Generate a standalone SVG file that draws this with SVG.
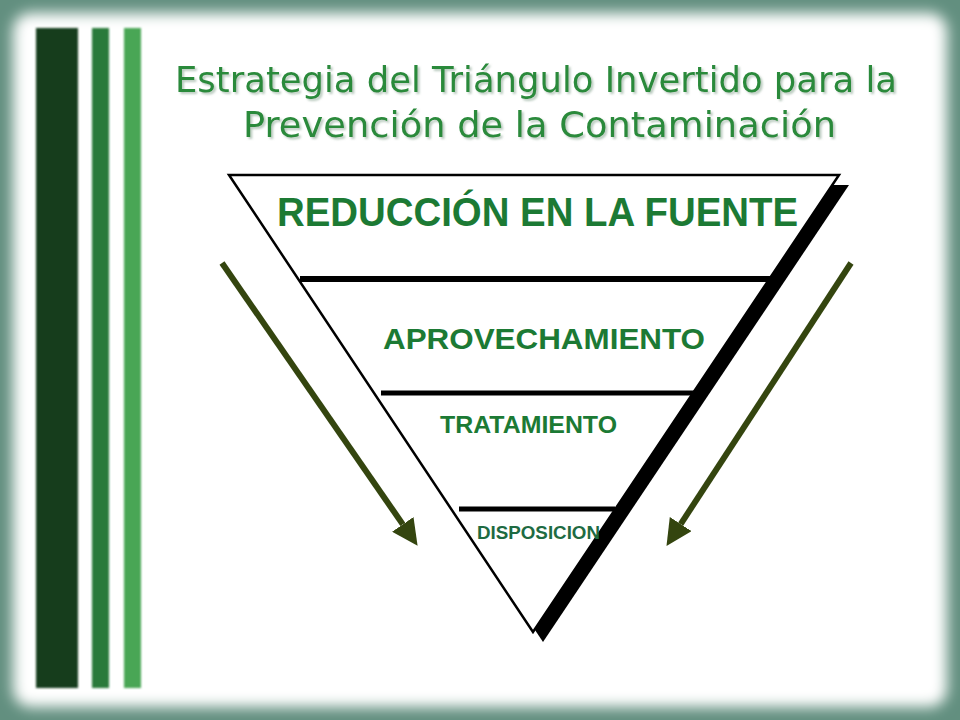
<svg xmlns="http://www.w3.org/2000/svg" width="960" height="720" viewBox="0 0 960 720">
  <defs>
    <filter id="soft" x="-5%" y="-5%" width="110%" height="110%">
      <feGaussianBlur stdDeviation="7"/>
    </filter>
    <filter id="stripeBlur" x="-20%" y="-5%" width="140%" height="110%">
      <feGaussianBlur stdDeviation="1.2"/>
    </filter>
    <filter id="titleShadow" x="-5%" y="-30%" width="110%" height="160%">
      <feDropShadow dx="2" dy="2" stdDeviation="1.2" flood-color="#7f9f88" flood-opacity="0.55"/>
    </filter>
    <marker id="head" viewBox="0 0 26 26" markerWidth="26" markerHeight="26" refX="0" refY="13" orient="auto" markerUnits="userSpaceOnUse">
      <path d="M0,0 L26,13 L0,26 z" fill="#34450f"/>
    </marker>
    <style>
      .title { font-family: "DejaVu Sans", "Liberation Sans", sans-serif; font-size: 36px; fill: #2a8a3b; }
      .tier { font-family: "Liberation Sans", Arial, sans-serif; font-weight: bold; fill: #1c7a34; }
      .divider { stroke: #000; fill: none; }
      .arrow { stroke: #34450f; stroke-width: 6; fill: none; }
    </style>
  </defs>

  <g id="frame">
    <rect x="0" y="0" width="960" height="720" fill="#628f7f"/>
    <rect x="13" y="13" width="934" height="694" rx="18" fill="#ffffff" filter="url(#soft)"/>
  </g>

  <g id="stripes" filter="url(#stripeBlur)">
    <rect x="36" y="28" width="42" height="660" fill="#143d1d"/>
    <rect x="92" y="28" width="17" height="660" fill="#2b7a3b"/>
    <rect x="124" y="28" width="17" height="660" fill="#48a654"/>
  </g>

  <g id="title" filter="url(#titleShadow)">
    <text class="title" x="175" y="92" textLength="722" lengthAdjust="spacingAndGlyphs">Estrategia  del Triángulo Invertido para la</text>
    <text class="title" x="243" y="137" textLength="593" lengthAdjust="spacingAndGlyphs">Prevención de la Contaminación</text>
  </g>

  <g id="triangle">
    <polygon points="239,185 849,185 543,642" fill="#000"/>
    <polygon points="229,175 839,175 533,632" fill="#ffffff" stroke="#000" stroke-width="2.5" stroke-linejoin="miter"/>
    <line class="divider" x1="300" y1="279" x2="770" y2="279" stroke-width="6"/>
    <line class="divider" x1="381" y1="393" x2="695" y2="393" stroke-width="5"/>
    <line class="divider" x1="459" y1="509" x2="615" y2="509" stroke-width="5"/>
  </g>

  <g id="tier-reduccion">
    <text class="tier" x="277" y="226" font-size="41" textLength="521" lengthAdjust="spacingAndGlyphs">REDUCCIÓN EN LA FUENTE</text>
  </g>
  <g id="tier-aprovechamiento">
    <text class="tier" x="383" y="349" font-size="30" textLength="322" lengthAdjust="spacingAndGlyphs">APROVECHAMIENTO</text>
  </g>
  <g id="tier-tratamiento">
    <text class="tier" x="440" y="433" font-size="23" textLength="177" lengthAdjust="spacingAndGlyphs">TRATAMIENTO</text>
  </g>
  <g id="tier-disposicion">
    <text class="tier" x="477" y="539" font-size="18" textLength="123" lengthAdjust="spacingAndGlyphs" style="fill:#1e6b42">DISPOSICION</text>
  </g>

  <g id="connectors">
    <line class="arrow" x1="222" y1="263" x2="402.8" y2="524.4" marker-end="url(#head)"/>
    <line class="arrow" x1="851" y1="263" x2="680.7" y2="524.1" stroke-width="5" marker-end="url(#head)"/>
  </g>
</svg>
